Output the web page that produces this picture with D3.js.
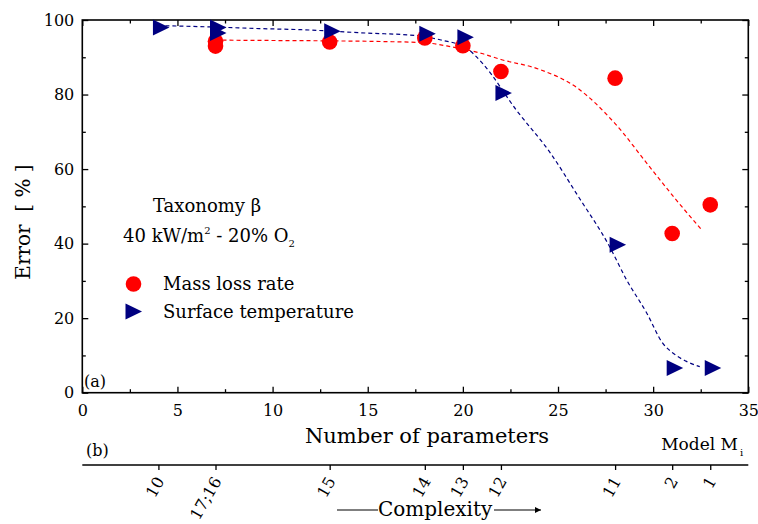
<!DOCTYPE html>
<html>
<head>
<meta charset="utf-8">
<script src="https://cdn.jsdelivr.net/npm/d3@7"></script>
<style>
  html, body { margin: 0; padding: 0; background: #fff; }
  svg { display: block; font-family: "DejaVu Serif", serif; }
</style>
</head>
<body>
<svg id="chart" width="758" height="524"></svg>
<script>
// Measured points: error (%) against number of parameters
const massX = [7, 7, 13, 18, 20, 22, 28, 31, 33];
const massY = [94.3, 93.0, 94.1, 95.2, 93.1, 86.2, 84.4, 42.7, 50.4];
const tempX = [4, 7, 7, 13, 18, 20, 22, 28, 31, 33];
const tempY = [98.0, 98.0, 96.5, 97.0, 96.3, 95.4, 80.4, 39.7, 6.6, 6.6];

// Trend lines through each series
const massFitX = [7, 10, 13, 16, 18, 19.4, 21, 22, 24, 26, 28, 29.8, 31.2, 32.6];
const massFitY = [94.6, 94.5, 94.4, 94.2, 93.9, 92.8, 91.0, 89.4, 86.8, 81.8, 72.2, 60.7, 51.8, 43.4];
const tempFitX = [4, 7, 9.3, 11.5, 14.9, 17.6, 18.8, 20.2, 21.06, 22.8, 24.6, 26.06, 27.7, 28.6, 29.66, 30.5, 31.05, 31.75, 32.45];
const tempFitY = [98.5, 98.1, 97.7, 97.4, 96.5, 95.8, 94.7, 92.4, 88.2, 75.9, 64.3, 52.7, 39.3, 30.3, 21.4, 13.3, 10.6, 8.4, 7.0];

// Axis ticks
const xTicks = [0, 5, 10, 15, 20, 25, 30, 35];
const xMinor = [2.5, 7.5, 12.5, 17.5, 22.5, 27.5, 32.5];
const yTicks = [0, 20, 40, 60, 80, 100];
const yMinor = [10, 30, 50, 70, 90];

// Model index for each parameter count
const modelParams = [4, 7, 13, 18, 20, 22, 28, 31, 33];
const modelLabels = ["10", "17;16", "15", "14", "13", "12", "11", "2", "1"];

const RED = "#ff0000", NAVY = "#000080";

const svg = d3.select("#chart");
const x = d3.scaleLinear().domain([0, 35]).range([82.3, 748.3]);
const y = d3.scaleLinear().domain([0, 100]).range([392.7, 20]);
const x0 = x.range()[0], x1 = x.range()[1], y0 = y.range()[0], y1 = y.range()[1];

function styleAxis(g, fs) {
  g.select(".domain").remove();
  g.selectAll(".tick line").attr("stroke", "#000").attr("stroke-width", 1.3);
  g.selectAll(".tick text").attr("fill", "#000")
    .style("font-family", "DejaVu Serif, serif").style("font-size", fs + "px");
}

// bottom axis with labels
svg.append("g").attr("transform", `translate(0,${y0})`)
  .call(d3.axisBottom(x).tickValues(xTicks).tickSizeInner(-6).tickSizeOuter(0).tickPadding(12).tickFormat(d3.format("d")))
  .call(g => styleAxis(g, 16));
svg.append("g").attr("transform", `translate(0,${y0})`)
  .call(d3.axisBottom(x).tickValues(xMinor).tickSizeInner(-3.5).tickSizeOuter(0).tickFormat(""))
  .call(g => styleAxis(g, 16));
// top axis
svg.append("g").attr("transform", `translate(0,${y1})`)
  .call(d3.axisTop(x).tickValues(xTicks).tickSizeInner(-6).tickSizeOuter(0).tickFormat(""))
  .call(g => styleAxis(g, 16));
svg.append("g").attr("transform", `translate(0,${y1})`)
  .call(d3.axisTop(x).tickValues(xMinor).tickSizeInner(-3.5).tickSizeOuter(0).tickFormat(""))
  .call(g => styleAxis(g, 16));
// left axis with labels
svg.append("g").attr("transform", `translate(${x0},0)`)
  .call(d3.axisLeft(y).tickValues(yTicks).tickSizeInner(-6).tickSizeOuter(0).tickPadding(8).tickFormat(d3.format("d")))
  .call(g => styleAxis(g, 16));
svg.append("g").attr("transform", `translate(${x0},0)`)
  .call(d3.axisLeft(y).tickValues(yMinor).tickSizeInner(-3.5).tickSizeOuter(0).tickFormat(""))
  .call(g => styleAxis(g, 16));
// right axis
svg.append("g").attr("transform", `translate(${x1},0)`)
  .call(d3.axisRight(y).tickValues(yTicks).tickSizeInner(-6).tickSizeOuter(0).tickFormat(""))
  .call(g => styleAxis(g, 16));
svg.append("g").attr("transform", `translate(${x1},0)`)
  .call(d3.axisRight(y).tickValues(yMinor).tickSizeInner(-3.5).tickSizeOuter(0).tickFormat(""))
  .call(g => styleAxis(g, 16));

// plot frame
svg.append("rect").attr("x", x0).attr("y", y1).attr("width", x1 - x0).attr("height", y0 - y1)
  .attr("fill", "none").attr("stroke", "#000").attr("stroke-width", 1.6);

// trend lines
const line = d3.line().x(d => x(d[0])).y(d => y(d[1])).curve(d3.curveMonotoneX);
svg.append("path").datum(massFitX.map((v, i) => [v, massFitY[i]]))
  .attr("d", line).attr("fill", "none").attr("stroke", RED).attr("stroke-width", 1.2).attr("stroke-dasharray", "4,3");
svg.append("path").datum(tempFitX.map((v, i) => [v, tempFitY[i]]))
  .attr("d", line).attr("fill", "none").attr("stroke", NAVY).attr("stroke-width", 1.2).attr("stroke-dasharray", "4,3");

// markers
const triPath = (w, h) => `M${-w / 3},${-h / 2}L${2 * w / 3},0L${-w / 3},${h / 2}Z`;
svg.append("g").selectAll("circle").data(massX.map((v, i) => [v, massY[i]])).join("circle")
  .attr("cx", d => x(d[0])).attr("cy", d => y(d[1])).attr("r", 7.8).attr("fill", RED);
svg.append("g").selectAll("path").data(tempX.map((v, i) => [v, tempY[i]])).join("path")
  .attr("transform", d => `translate(${x(d[0])},${y(d[1])})`)
  .attr("d", triPath(16.5, 16)).attr("fill", NAVY);

// annotations inside the plot
svg.append("text").attr("x", 84).attr("y", 387).attr("font-size", 16).text("(a)");
const t1 = svg.append("text").attr("x", 153).attr("y", 212).attr("font-size", 18);
t1.append("tspan").text("Taxonomy ");
t1.append("tspan").text("β");
const t2 = svg.append("text").attr("x", 123).attr("y", 242).attr("font-size", 18);
t2.append("tspan").text("40 kW/m");
t2.append("tspan").attr("dy", -8).attr("font-size", 10).text("2");
t2.append("tspan").attr("dy", 8).text(" - 20% O");
t2.append("tspan").attr("dy", 5).attr("font-size", 10).text("2");

// legend
svg.append("circle").attr("cx", 133.5).attr("cy", 284).attr("r", 7.8).attr("fill", RED);
svg.append("text").attr("x", 163).attr("y", 290).attr("font-size", 18).text("Mass loss rate");
svg.append("path").attr("transform", "translate(131,311.5)").attr("d", triPath(16.5, 16)).attr("fill", NAVY);
svg.append("text").attr("x", 163).attr("y", 318).attr("font-size", 18).text("Surface temperature");

// axis titles
svg.append("text").attr("x", 427).attr("y", 443).attr("text-anchor", "middle").attr("font-size", 21)
  .text("Number of parameters");
svg.append("text").attr("transform", "translate(30,222) rotate(-90)").attr("text-anchor", "middle")
  .attr("font-size", 20).attr("xml:space", "preserve").style("white-space", "pre").text("Error  [ % ]");

// secondary axis: model index
const yb = 465;
svg.append("text").attr("x", 86).attr("y", 456).attr("font-size", 16).text("(b)");
const mt = svg.append("text").attr("x", 738).attr("y", 450).attr("text-anchor", "end").attr("font-size", 17);
mt.append("tspan").text("Model M");
svg.append("text").attr("x", 740).attr("y", 456).attr("font-size", 10).text("i");

const modelAxis = svg.append("g").attr("transform", `translate(0,${yb})`)
  .call(d3.axisBottom(x).tickValues(modelParams).tickSizeInner(5).tickSizeOuter(0)
    .tickFormat((d, i) => modelLabels[i]));
modelAxis.select(".domain").remove();
modelAxis.selectAll(".tick line").attr("stroke", "#000").attr("stroke-width", 1.3);
modelAxis.selectAll(".tick text")
  .attr("fill", "#000").style("font-family", "DejaVu Serif, serif").style("font-size", "16px")
  .attr("text-anchor", "end").attr("y", 0).attr("dy", 0)
  .attr("transform", "translate(6,16) rotate(-60)");
svg.append("line").attr("x1", x0).attr("x2", x1).attr("y1", yb).attr("y2", yb)
  .attr("stroke", "#000").attr("stroke-width", 1.5);

// complexity arrow
svg.append("defs").append("marker").attr("id", "arrow").attr("viewBox", "0 0 10 10")
  .attr("refX", 10).attr("refY", 5).attr("markerWidth", 9).attr("markerHeight", 6)
  .attr("markerUnits", "userSpaceOnUse").attr("orient", "auto")
  .append("path").attr("d", "M0,0L10,5L0,10Z").attr("fill", "#000");
svg.append("line").attr("x1", 337).attr("x2", 378).attr("y1", 510).attr("y2", 510).attr("stroke", "#000").attr("stroke-width", 1.2);
svg.append("text").attr("x", 378).attr("y", 516).attr("font-size", 20).text("Complexity");
svg.append("line").attr("x1", 494).attr("x2", 541).attr("y1", 510).attr("y2", 510).attr("stroke", "#000").attr("stroke-width", 1.2)
  .attr("marker-end", "url(#arrow)");
</script>
</body>
</html>
